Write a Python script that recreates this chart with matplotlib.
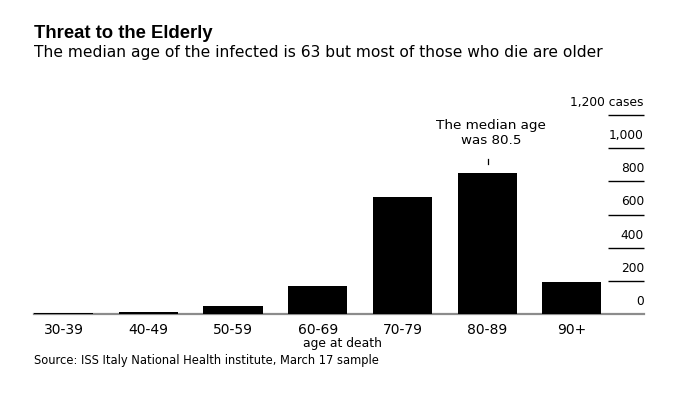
import matplotlib
matplotlib.use("Agg")
import matplotlib.pyplot as plt
import matplotlib.transforms as mtransforms
import numpy as np

plt.rcParams['font.family'] = ['DejaVu Sans']

categories = ["30-39", "40-49", "50-59", "60-69", "70-79", "80-89", "90+"]
deaths = [5, 12, 50, 170, 705, 850, 195]
ytick_values = [0, 200, 400, 600, 800, 1000, 1200]
ytick_labels = ["0", "200", "400", "600", "800", "1,000", "1,200 cases"]

title = "Threat to the Elderly"
subtitle = "The median age of the infected is 63 but most of those who die are older"
source = "Source: ISS Italy National Health institute, March 17 sample"
xlabel = "age at death"
note = "The median age\nwas 80.5"

W, H = 678, 397
fig = plt.figure(figsize=(W / 100, H / 100), dpi=100)
ax = fig.add_axes([34 / W, 83 / H, 610 / W, 199 / H])

x = np.arange(len(categories))
ax.bar(x, deaths, width=0.7, color="black", zorder=4)
ax.set_xlim(-0.35, -0.35 + 610 / 84.7)
ax.set_ylim(0, 1200)

for s in ax.spines.values():
    s.set_visible(False)
ax.set_yticks([])
ax.set_xticks(x, categories)
ax.tick_params(axis="x", length=0, pad=6.5, labelsize=10, labelcolor="black")

# baseline
ax.axhline(0, color="#8c8c8c", lw=1.6, zorder=3, clip_on=False)

# right-side gridline stubs and labels
ytrans = ax.get_yaxis_transform()
lab_trans = mtransforms.offset_copy(ytrans, fig=fig, x=0, y=6.5, units="points")
for v, lab in zip(ytick_values, ytick_labels):
    if v > 0:
        ax.plot([0.941, 1.0], [v, v], transform=ytrans, color="black", lw=1.0,
                clip_on=False, solid_capstyle="butt")
    ax.text(1.0, v, lab, transform=lab_trans, ha="right", va="baseline",
            fontsize=8.8)

# median annotation
ax.plot([5.01, 5.01], [903, 933], color="black", lw=0.9, clip_on=False)
ax.text(5.05, 1023, note, ha="center", va="baseline", fontsize=9.7,
        linespacing=1.2)

# x label
xl_trans = mtransforms.offset_copy(ax.transAxes, fig=fig, x=0, y=-23.5, units="points")
ax.text(0.505, 0, xlabel, transform=xl_trans, ha="center", va="baseline",
        fontsize=8.9)

# titles and source
fig.text(34 / W, 1 - 38.3 / H, title, ha="left", va="baseline",
         fontsize=13.3, fontweight="bold", family=["Liberation Sans", "DejaVu Sans"])
fig.text(34 / W, 1 - 56.7 / H, subtitle, ha="left", va="baseline",
         fontsize=11.2)
fig.text(34 / W, 1 - 364 / H, source, ha="left", va="baseline", fontsize=8.3)

fig.savefig("out.png", dpi=100, facecolor="white")
